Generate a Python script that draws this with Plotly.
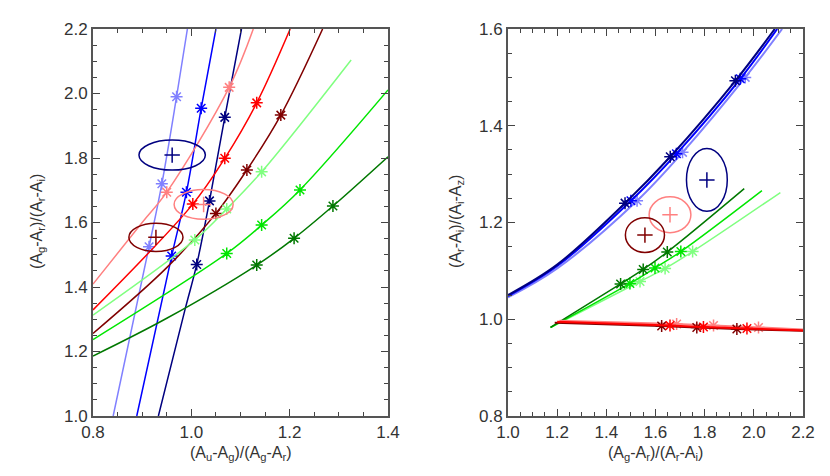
import plotly.graph_objects as go

# ---------------- Left panel data ----------------
# curves: (x, y) points
L_lightblue_x = [0.841, 0.914, 0.940, 0.970, 0.992]
L_lightblue_y = [1.000, 1.525, 1.720, 1.990, 2.200]
L_blue_x = [0.889, 0.960, 0.990, 1.020, 1.050]
L_blue_y = [1.000, 1.496, 1.694, 1.954, 2.200]
L_navy_x = [0.933, 0.987, 1.011, 1.037, 1.068, 1.102]
L_navy_y = [1.000, 1.329, 1.470, 1.667, 1.926, 2.200]
L_pink_x = [0.800, 0.900, 0.950, 1.077, 1.126]
L_pink_y = [1.409, 1.600, 1.694, 2.019, 2.200]
L_red_x = [0.800, 1.003, 1.068, 1.133, 1.201]
L_red_y = [1.329, 1.657, 1.799, 1.971, 2.200]
L_maroon_x = [0.800, 0.950, 1.050, 1.113, 1.182, 1.267]
L_maroon_y = [1.256, 1.460, 1.628, 1.763, 1.933, 2.200]
L_lgreen_x = [0.800, 1.007, 1.072, 1.143, 1.325]
L_lgreen_y = [1.313, 1.546, 1.642, 1.757, 2.104]
L_green_x = [0.800, 1.072, 1.143, 1.221, 1.400]
L_green_y = [1.237, 1.504, 1.592, 1.701, 2.011]
L_dgreen_x = [0.800, 0.950, 1.133, 1.209, 1.288, 1.400]
L_dgreen_y = [1.186, 1.303, 1.468, 1.551, 1.651, 1.804]

# markers on curves (indices of the points above that carry a marker)
L_lightblue_m = [1, 2, 3]
L_blue_m = [1, 2, 3]
L_navy_m = [2, 3, 4]
L_pink_m = [2, 3]
L_red_m = [1, 2, 3]
L_maroon_m = [2, 3, 4]
L_lgreen_m = [1, 2, 3]
L_green_m = [1, 2, 3]
L_dgreen_m = [2, 3, 4]

# ellipses: centre x, centre y, semi-axis x, semi-axis y
L_ell_navy = [0.961, 1.809, 0.0675, 0.0465]
L_ell_pink = [1.025, 1.656, 0.060, 0.046]
L_ell_maroon = [0.928, 1.554, 0.055, 0.044]

# ---------------- Right panel data ----------------
R_navy_x = [1.000, 1.200, 1.476, 1.660, 1.925, 2.085]
R_navy_y = [1.050, 1.113, 1.240, 1.336, 1.493, 1.600]
R_blue_x = [1.000, 1.200, 1.500, 1.685, 1.945, 2.095]
R_blue_y = [1.048, 1.110, 1.245, 1.342, 1.497, 1.600]
R_lightblue_x = [1.000, 1.200, 1.525, 1.710, 1.965, 2.115]
R_lightblue_y = [1.045, 1.105, 1.245, 1.345, 1.500, 1.600]
R_dgreen_x = [1.173, 1.458, 1.550, 1.648, 1.961]
R_dgreen_y = [0.983, 1.073, 1.103, 1.139, 1.270]
R_green_x = [1.173, 1.496, 1.598, 1.703, 2.033]
R_green_y = [0.983, 1.074, 1.106, 1.140, 1.266]
R_lgreen_x = [1.173, 1.537, 1.639, 1.751, 2.108]
R_lgreen_y = [0.983, 1.078, 1.105, 1.140, 1.262]
R_maroon_x = [1.190, 1.625, 1.768, 1.931, 2.200]
R_maroon_y = [0.993, 0.986, 0.983, 0.980, 0.976]
R_red_x = [1.200, 1.659, 1.795, 1.972, 2.200]
R_red_y = [0.995, 0.987, 0.984, 0.981, 0.977]
R_pink_x = [1.210, 1.686, 1.836, 2.019, 2.200]
R_pink_y = [0.997, 0.990, 0.987, 0.983, 0.979]

R_blue_m = [2, 3, 4]
R_green_m = [1, 2, 3]
R_red_m = [1, 2, 3]

R_ell_navy = [1.809, 1.288, 0.083, 0.065]
R_ell_pink = [1.659, 1.216, 0.085, 0.037]
R_ell_maroon = [1.557, 1.174, 0.0795, 0.036]

# ---------------- colours ----------------
C_LIGHTBLUE = "rgb(128,128,255)"
C_BLUE = "rgb(0,0,255)"
C_NAVY = "rgb(0,0,128)"
C_PINK = "rgb(255,128,128)"
C_RED = "rgb(255,0,0)"
C_MAROON = "rgb(128,0,0)"
C_LGREEN = "rgb(128,255,128)"
C_GREEN = "rgb(0,230,0)"
C_DGREEN = "rgb(0,120,0)"

fig = go.Figure()


def add_curve(x, y, mk, color, xa, ya, width=1.5):
    fig.add_trace(go.Scatter(x=x, y=y, mode="lines", xaxis=xa, yaxis=ya,
                             line=dict(color=color, width=width, shape="spline", smoothing=1.0),
                             showlegend=False, hoverinfo="skip"))
    fig.add_trace(go.Scatter(x=[x[i] for i in mk], y=[y[i] for i in mk], mode="markers",
                             xaxis=xa, yaxis=ya,
                             marker=dict(symbol="asterisk-open", size=10, color=color,
                                         line=dict(color=color, width=1.5)),
                             showlegend=False, hoverinfo="skip"))


def add_ellipse(e, color, xa, ya):
    cx, cy, rx, ry = e
    xref = "x" if xa == "x" else "x2"
    yref = "y" if ya == "y" else "y2"
    fig.add_shape(type="circle", xref=xref, yref=yref,
                  x0=cx - rx, x1=cx + rx, y0=cy - ry, y1=cy + ry,
                  line=dict(color=color, width=1.5))
    fig.add_trace(go.Scatter(x=[cx], y=[cy], mode="markers", xaxis=xa, yaxis=ya,
                             marker=dict(symbol="cross-thin-open", size=11, color=color,
                                         line=dict(color=color, width=1.5)),
                             showlegend=False, hoverinfo="skip"))


# left panel
add_curve(L_lightblue_x, L_lightblue_y, L_lightblue_m, C_LIGHTBLUE, "x", "y")
add_curve(L_blue_x, L_blue_y, L_blue_m, C_BLUE, "x", "y")
add_curve(L_navy_x, L_navy_y, L_navy_m, C_NAVY, "x", "y")
add_curve(L_pink_x, L_pink_y, L_pink_m, C_PINK, "x", "y")
add_curve(L_red_x, L_red_y, L_red_m, C_RED, "x", "y")
add_curve(L_maroon_x, L_maroon_y, L_maroon_m, C_MAROON, "x", "y")
add_curve(L_lgreen_x, L_lgreen_y, L_lgreen_m, C_LGREEN, "x", "y")
add_curve(L_green_x, L_green_y, L_green_m, C_GREEN, "x", "y")
add_curve(L_dgreen_x, L_dgreen_y, L_dgreen_m, C_DGREEN, "x", "y")
add_ellipse(L_ell_navy, C_NAVY, "x", "y")
add_ellipse(L_ell_pink, C_PINK, "x", "y")
add_ellipse(L_ell_maroon, C_MAROON, "x", "y")

# right panel
add_curve(R_lightblue_x, R_lightblue_y, R_blue_m, C_LIGHTBLUE, "x2", "y2", 2)
add_curve(R_blue_x, R_blue_y, R_blue_m, C_BLUE, "x2", "y2", 2)
add_curve(R_navy_x, R_navy_y, R_blue_m, C_NAVY, "x2", "y2", 2)
add_curve(R_lgreen_x, R_lgreen_y, R_green_m, C_LGREEN, "x2", "y2")
add_curve(R_green_x, R_green_y, R_green_m, C_GREEN, "x2", "y2")
add_curve(R_dgreen_x, R_dgreen_y, R_green_m, C_DGREEN, "x2", "y2")
add_curve(R_pink_x, R_pink_y, R_red_m, C_PINK, "x2", "y2", 2)
add_curve(R_maroon_x, R_maroon_y, R_red_m, C_MAROON, "x2", "y2", 2)
add_curve(R_red_x, R_red_y, R_red_m, C_RED, "x2", "y2", 2)
add_ellipse(R_ell_navy, C_NAVY, "x2", "y2")
add_ellipse(R_ell_pink, C_PINK, "x2", "y2")
add_ellipse(R_ell_maroon, C_MAROON, "x2", "y2")

FONT = "Liberation Sans, Arial, sans-serif"
axis_common = dict(showline=True, linecolor="#555555", linewidth=2, mirror="ticks",
                   ticks="inside", ticklen=7, tickwidth=1.2, tickcolor="#444444",
                   showgrid=False, zeroline=False, automargin=False,
                   tickfont=dict(family=FONT, size=17, color="#333333"),
                   minor=dict(ticks="inside", ticklen=4, dtick=0.05, tickcolor="#444444",
                              tickwidth=1, showgrid=False))

# the page body adds an 8 px offset, so the figure is laid out 8 px up/left
OFF = 8
W, H = 830 - 2 * OFF, 476 - 2 * OFF


def px(v):
    return (v - OFF) / W


def py(v):
    return 1 - (v - OFF) / H


fig.update_layout(
    width=W, height=H,
    margin=dict(l=0, r=0, t=0, b=0, autoexpand=False),
    paper_bgcolor="white", plot_bgcolor="white",
    xaxis=dict(domain=[px(93), px(388)], range=[0.8, 1.4], dtick=0.2, tick0=0.8,
               tickformat=".1f", anchor="y", **axis_common),
    yaxis=dict(domain=[py(416), py(29)], range=[1.0, 2.2], dtick=0.2, tick0=1.0,
               tickformat=".1f", anchor="x", **axis_common),
    xaxis2=dict(domain=[px(508), px(803)], range=[1.0, 2.2], dtick=0.2, tick0=1.0,
                tickformat=".1f", anchor="y2", **axis_common),
    yaxis2=dict(domain=[py(416), py(29)], range=[0.8, 1.6], dtick=0.2, tick0=0.8,
                tickformat=".1f", anchor="x2", **axis_common),
)

title_font = dict(family=FONT, size=16, color="#333333")
fig.add_annotation(text="(A<sub>u</sub>-A<sub>g</sub>)/(A<sub>g</sub>-A<sub>r</sub>)",
                   xref="paper", yref="paper", x=px((93 + 388) / 2), y=py(453),
                   showarrow=False, font=title_font, xanchor="center", yanchor="middle")
fig.add_annotation(text="(A<sub>g</sub>-A<sub>r</sub>)/(A<sub>r</sub>-A<sub>i</sub>)",
                   xref="paper", yref="paper", x=px(37), y=py(222), textangle=-90,
                   showarrow=False, font=title_font, xanchor="center", yanchor="middle")
fig.add_annotation(text="(A<sub>g</sub>-A<sub>r</sub>)/(A<sub>r</sub>-A<sub>i</sub>)",
                   xref="paper", yref="paper", x=px((508 + 803) / 2), y=py(453),
                   showarrow=False, font=title_font, xanchor="center", yanchor="middle")
fig.add_annotation(text="(A<sub>r</sub>-A<sub>i</sub>)/(A<sub>i</sub>-A<sub>z</sub>)",
                   xref="paper", yref="paper", x=px(456), y=py(222), textangle=-90,
                   showarrow=False, font=title_font, xanchor="center", yanchor="middle")

fig.write_html("out.html")
